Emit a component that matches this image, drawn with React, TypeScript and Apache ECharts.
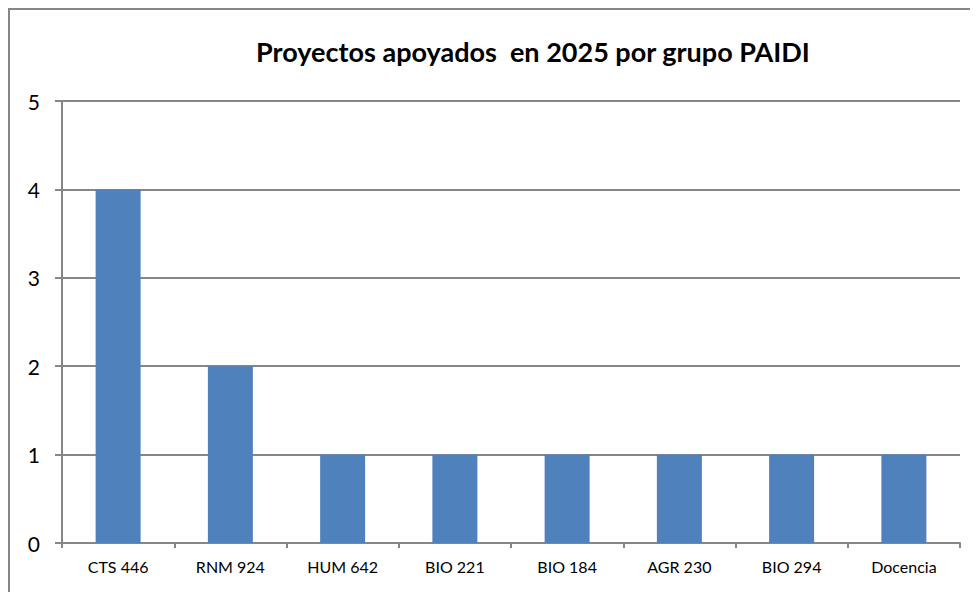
import React, { useEffect, useRef } from "react";
import * as echarts from "echarts";

const categories = ["CTS 446", "RNM 924", "HUM 642", "BIO 221", "BIO 184", "AGR 230", "BIO 294", "Docencia"];
const values = [4, 2, 1, 1, 1, 1, 1, 1];
const titleText = "Proyectos apoyados  en 2025 por grupo PAIDI";

export default function App() {
  const ref = useRef<HTMLDivElement>(null);
  useEffect(() => {
    if (!ref.current) return;
    const chart = echarts.init(ref.current, undefined, { renderer: "svg" });
    const font = "Lato, 'Open Sans', sans-serif";
    chart.setOption({
      animation: false,
      backgroundColor: "#ffffff",
      grid: { left: 54, right: 18, top: 93, bottom: 49, containLabel: false },
      graphic: [
        { type: "line", shape: { x1: 1, y1: 1, x2: 1, y2: 584 }, style: { stroke: "#868686", lineWidth: 2 } },
        { type: "line", shape: { x1: 0, y1: 1, x2: 970, y2: 1 }, style: { stroke: "#868686", lineWidth: 2 } },
        {
          type: "text",
          x: 525,
          y: 43,
          style: {
            text: titleText,
            fontFamily: font,
            fontWeight: "bold",
            fontSize: 27,
            fill: "#000000",
            textAlign: "center",
            textVerticalAlign: "middle",
          },
        },
      ],
      xAxis: {
        type: "category",
        data: categories,
        axisLine: { lineStyle: { color: "#868686", width: 2 } },
        axisTick: { show: true, length: 5, alignWithLabel: false, lineStyle: { color: "#868686", width: 2 } },
        axisLabel: { color: "#000000", fontSize: 16, fontFamily: font, margin: 15, interval: 0 },
      },
      yAxis: {
        type: "value",
        min: 0,
        max: 5,
        interval: 1,
        axisLine: { show: true, lineStyle: { color: "#868686", width: 2 } },
        axisTick: { show: true, length: 7, lineStyle: { color: "#868686", width: 2 } },
        axisLabel: { color: "#000000", fontSize: 21, fontFamily: font, margin: 22 },
        splitLine: { show: true, lineStyle: { color: "#868686", width: 2 } },
      },
      series: [
        {
          type: "bar",
          data: values,
          barWidth: 45,
          itemStyle: { color: "#4F81BD" },
        },
      ],
    });
    return () => chart.dispose();
  }, []);
  return <div ref={ref} style={{ width: 970, height: 584 }} />;
}
